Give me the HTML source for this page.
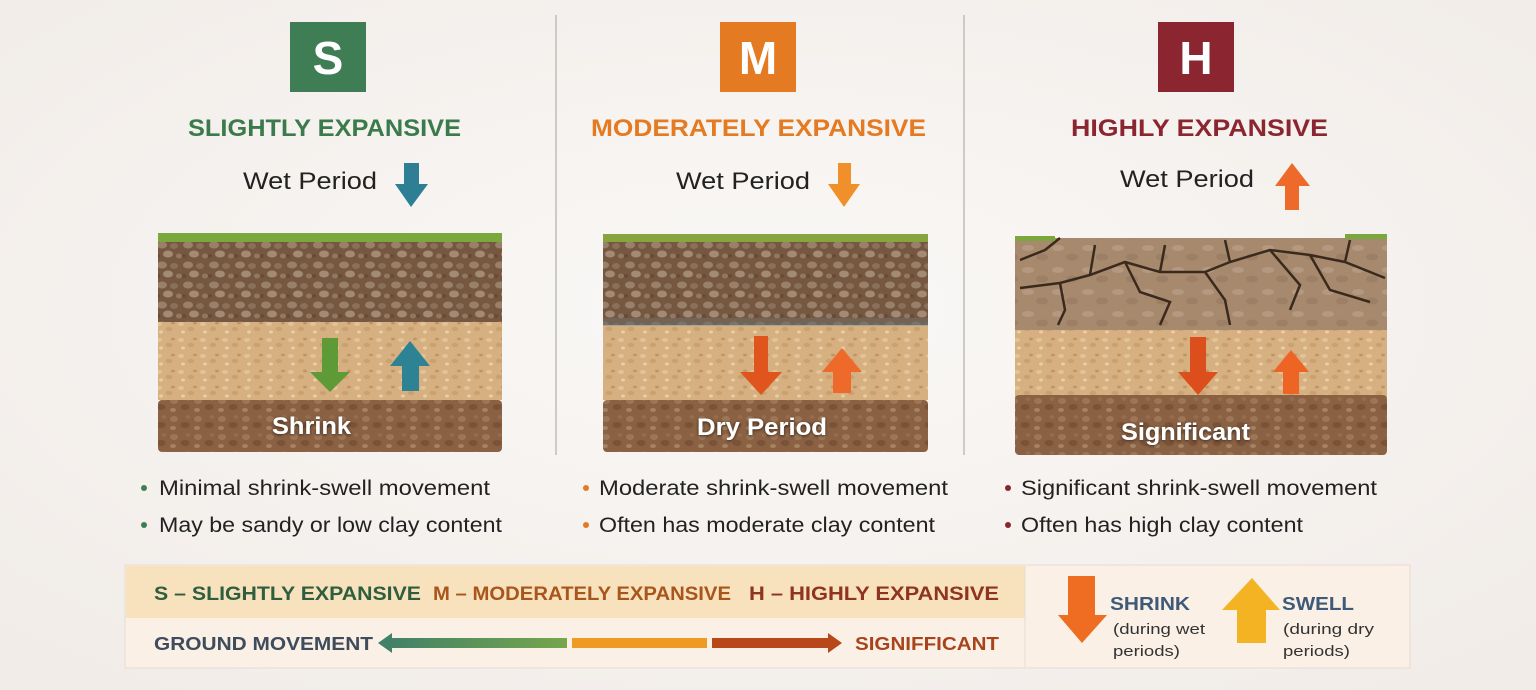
<!DOCTYPE html>
<html><head><meta charset="utf-8"><style>
html,body{margin:0;padding:0;background:#f6f3f0}
svg{display:block}
text{font-family:"Liberation Sans","DejaVu Sans",sans-serif}
</style></head><body>
<svg width="1536" height="690" viewBox="0 0 1536 690" xmlns="http://www.w3.org/2000/svg">
<defs>
<radialGradient id="bg" cx="50%" cy="45%" r="70%"><stop offset="0" stop-color="#faf8f6"/><stop offset="1" stop-color="#f1ece8"/></radialGradient>
<pattern id="dark" width="26" height="20" patternUnits="userSpaceOnUse">
<rect width="26" height="20" fill="#76573f"/>
<ellipse cx="6" cy="5" rx="5" ry="3.5" fill="#98806b"/><ellipse cx="18" cy="6" rx="4" ry="3" fill="#8a6f5a"/>
<ellipse cx="12" cy="14" rx="5" ry="3.5" fill="#a38a75"/><ellipse cx="23" cy="16" rx="3" ry="2.5" fill="#927762"/><ellipse cx="2" cy="16" rx="2.5" ry="2" fill="#6a4c36"/>
</pattern>
<pattern id="tan" width="22" height="16" patternUnits="userSpaceOnUse">
<rect width="22" height="16" fill="#d6b080"/>
<ellipse cx="5" cy="4" rx="3" ry="2" fill="#e2c398"/><ellipse cx="15" cy="9" rx="3.5" ry="2.2" fill="#c9a271"/><ellipse cx="7" cy="12" rx="2" ry="1.5" fill="#e8cfa8"/><ellipse cx="19" cy="3" rx="2" ry="1.4" fill="#bf9565"/>
</pattern>
<pattern id="brown" width="24" height="18" patternUnits="userSpaceOnUse">
<rect width="24" height="18" fill="#8a6143"/>
<ellipse cx="6" cy="5" rx="4" ry="3" fill="#9d7657"/><ellipse cx="17" cy="11" rx="4.5" ry="3" fill="#7a5238"/><ellipse cx="5" cy="14" rx="3" ry="2" fill="#a58262"/><ellipse cx="20" cy="3" rx="2.5" ry="2" fill="#966c4d"/>
</pattern>
<pattern id="crack" width="30" height="22" patternUnits="userSpaceOnUse">
<rect width="30" height="22" fill="#a78a6e"/>
<ellipse cx="8" cy="6" rx="6" ry="3" fill="#b49880"/><ellipse cx="22" cy="15" rx="6" ry="3.5" fill="#9c7f64"/>
</pattern>
<linearGradient id="lg" x1="0" x2="1"><stop offset="0" stop-color="#3f7f6a"/><stop offset="1" stop-color="#76a64c"/></linearGradient>
<filter id="sh"><feDropShadow dx="0" dy="1" stdDeviation="1.5" flood-color="#000" flood-opacity=".6"/></filter>
</defs>
<rect width="1536" height="690" fill="url(#bg)"/>
<line x1="556" y1="15" x2="556" y2="455" stroke="#cfcac5" stroke-width="2"/>
<line x1="964" y1="15" x2="964" y2="455" stroke="#cfcac5" stroke-width="2"/>

<rect x="290" y="22" width="76" height="70" fill="#3f7d55"/>
<text x="328" y="74" font-size="46" font-weight="bold" fill="#fff" text-anchor="middle">S</text>
<rect x="720" y="22" width="76" height="70" fill="#e47b22"/>
<text x="758" y="74" font-size="46" font-weight="bold" fill="#fff" text-anchor="middle">M</text>
<rect x="1158" y="22" width="76" height="70" fill="#8b2530"/>
<text x="1196" y="74" font-size="46" font-weight="bold" fill="#fff" text-anchor="middle">H</text>

<text x="188" y="136" font-size="24" font-weight="bold" fill="#3b7a4a" textLength="273" lengthAdjust="spacingAndGlyphs">SLIGHTLY EXPANSIVE</text>
<text x="591" y="136" font-size="24" font-weight="bold" fill="#e47a22" textLength="335" lengthAdjust="spacingAndGlyphs">MODERATELY EXPANSIVE</text>
<text x="1071" y="136" font-size="24" font-weight="bold" fill="#8b2530" textLength="257" lengthAdjust="spacingAndGlyphs">HIGHLY EXPANSIVE</text>

<text x="243" y="189" font-size="24" fill="#222" textLength="134" lengthAdjust="spacingAndGlyphs">Wet Period</text>
<text x="676" y="189" font-size="24" fill="#222" textLength="134" lengthAdjust="spacingAndGlyphs">Wet Period</text>
<text x="1120" y="187" font-size="24" fill="#222" textLength="134" lengthAdjust="spacingAndGlyphs">Wet Period</text>
<polygon points="404,163 419,163 419,184 428,184 411,207 395,184 404,184" fill="#2e7f94"/>
<polygon points="838,163 851,163 851,184 860,184 844,207 828,184 838,184" fill="#f0902a"/>
<polygon points="1292,163 1275,186 1285,186 1285,210 1299,210 1299,186 1310,186" fill="#ee6a2a"/>

<g>
<rect x="158" y="240" width="344" height="82" fill="url(#dark)"/>
<rect x="158" y="322" width="344" height="78" fill="url(#tan)"/>
<rect x="158" y="400" width="344" height="52" rx="4" fill="url(#brown)"/>
<rect x="158" y="233" width="344" height="9" fill="#7ba83c"/>
<polygon points="322,338 338,338 338,372 350,372 330,392 310,372 322,372" fill="#5e9a35"/>
<polygon points="410,341 430,366 419,366 419,391 402,391 402,366 390,366" fill="#2d8393"/>
<text x="272" y="434" font-size="24" font-weight="bold" fill="#fff" filter="url(#sh)" textLength="79" lengthAdjust="spacingAndGlyphs">Shrink</text>
</g>
<g>
<rect x="603" y="240" width="325" height="85" fill="url(#dark)"/>
<rect x="603" y="318" width="325" height="8" fill="#6e6a66" opacity=".6"/>
<rect x="603" y="326" width="325" height="74" fill="url(#tan)"/>
<rect x="603" y="400" width="325" height="52" rx="4" fill="url(#brown)"/>
<rect x="603" y="234" width="325" height="8" fill="#86a440"/>
<polygon points="754,336 768,336 768,372 782,372 761,395 740,372 754,372" fill="#e0541e"/>
<polygon points="842,348 862,372 851,372 851,393 833,393 833,372 822,372" fill="#ee6a2a"/>
<text x="697" y="435" font-size="24" font-weight="bold" fill="#fff" filter="url(#sh)" textLength="130" lengthAdjust="spacingAndGlyphs">Dry Period</text>
</g>
<g>
<rect x="1015" y="238" width="372" height="92" fill="url(#crack)"/>
<g stroke="#3a2a1e" stroke-width="2.5" fill="none">
<path d="M1020,288 L1060,283 L1090,275 L1125,262 L1160,272 L1205,272 L1230,262 L1270,250 L1310,255 L1345,262 L1385,278"/>
<path d="M1060,283 L1065,310 L1058,325 M1090,275 L1095,245 M1125,262 L1140,292 L1170,302 L1160,325 M1205,272 L1225,300 L1230,325 M1230,262 L1225,240 M1270,250 L1300,285 L1290,310 M1310,255 L1330,290 L1370,302 M1345,262 L1350,240 M1160,272 L1165,245 M1020,260 L1045,250 L1060,238"/>
</g>
<rect x="1015" y="330" width="372" height="70" fill="url(#tan)"/>
<rect x="1015" y="395" width="372" height="60" rx="4" fill="url(#brown)"/>
<rect x="1015" y="236" width="40" height="5" fill="#7ba83c"/><rect x="1345" y="234" width="42" height="5" fill="#7ba83c"/>
<polygon points="1190,337 1206,337 1206,372 1218,372 1198,395 1178,372 1190,372" fill="#dc4f1c"/>
<polygon points="1291,350 1309,372 1299,372 1299,394 1283,394 1283,372 1273,372" fill="#ee6424"/>
<text x="1121" y="440" font-size="24" font-weight="bold" fill="#fff" filter="url(#sh)" textLength="129" lengthAdjust="spacingAndGlyphs">Significant</text>
</g>

<g font-size="21" fill="#222">
<circle cx="144" cy="488" r="3" fill="#3f7d55"/><circle cx="144" cy="525" r="3" fill="#3f7d55"/>
<text x="159" y="495" textLength="331" lengthAdjust="spacingAndGlyphs">Minimal shrink-swell movement</text>
<text x="159" y="532" textLength="343" lengthAdjust="spacingAndGlyphs">May be sandy or low clay content</text>
<circle cx="586" cy="488" r="3" fill="#e47b22"/><circle cx="586" cy="525" r="3" fill="#e47b22"/>
<text x="599" y="495" textLength="349" lengthAdjust="spacingAndGlyphs">Moderate shrink-swell movement</text>
<text x="599" y="532" textLength="336" lengthAdjust="spacingAndGlyphs">Often has moderate clay content</text>
<circle cx="1008" cy="488" r="3" fill="#8b2530"/><circle cx="1008" cy="525" r="3" fill="#8b2530"/>
<text x="1021" y="495" textLength="356" lengthAdjust="spacingAndGlyphs">Significant shrink-swell movement</text>
<text x="1021" y="532" textLength="282" lengthAdjust="spacingAndGlyphs">Often has high clay content</text>
</g>

<rect x="125" y="565" width="1285" height="103" fill="#faf0e6" stroke="#e6dcd2"/>
<rect x="126" y="566" width="899" height="52" fill="#f7e2bd"/>
<line x1="1025" y1="566" x2="1025" y2="667" stroke="#e6dcd2"/>
<text x="154" y="600" font-size="19" font-weight="bold" fill="#2f5e3e" textLength="267" lengthAdjust="spacingAndGlyphs">S – SLIGHTLY EXPANSIVE</text>
<text x="433" y="600" font-size="19" font-weight="bold" fill="#a8561c" textLength="298" lengthAdjust="spacingAndGlyphs">M – MODERATELY EXPANSIVE</text>
<text x="749" y="600" font-size="19" font-weight="bold" fill="#8e3420" textLength="250" lengthAdjust="spacingAndGlyphs">H – HIGHLY EXPANSIVE</text>
<text x="154" y="650" font-size="18" font-weight="bold" fill="#3e4c5c" textLength="219" lengthAdjust="spacingAndGlyphs">GROUND MOVEMENT</text>
<polygon points="378,643 392,633 392,638 567,638 567,648 392,648 392,653" fill="url(#lg)"/>
<rect x="572" y="638" width="135" height="10" fill="#ef9a22"/>
<polygon points="712,638 828,638 828,633 842,643 828,653 828,648 712,648" fill="#b8481a"/>
<text x="855" y="650" font-size="18" font-weight="bold" fill="#a8441c" textLength="144" lengthAdjust="spacingAndGlyphs">SIGNIFFICANT</text>
<polygon points="1068,576 1095,576 1095,615 1107,615 1082,643 1058,615 1068,615" fill="#ee6d22"/>
<text x="1110" y="610" font-size="18" font-weight="bold" fill="#3e5a78" textLength="80" lengthAdjust="spacingAndGlyphs">SHRINK</text>
<text x="1113" y="634" font-size="15" fill="#333" textLength="92" lengthAdjust="spacingAndGlyphs">(during wet</text>
<text x="1113" y="656" font-size="15" fill="#333" textLength="67" lengthAdjust="spacingAndGlyphs">periods)</text>
<polygon points="1252,578 1280,610 1266,610 1266,643 1237,643 1237,610 1222,610" fill="#f4b323"/>
<text x="1282" y="610" font-size="18" font-weight="bold" fill="#3e5a78" textLength="72" lengthAdjust="spacingAndGlyphs">SWELL</text>
<text x="1283" y="634" font-size="15" fill="#333" textLength="91" lengthAdjust="spacingAndGlyphs">(during dry</text>
<text x="1283" y="656" font-size="15" fill="#333" textLength="67" lengthAdjust="spacingAndGlyphs">periods)</text>
</svg>
</body></html>
